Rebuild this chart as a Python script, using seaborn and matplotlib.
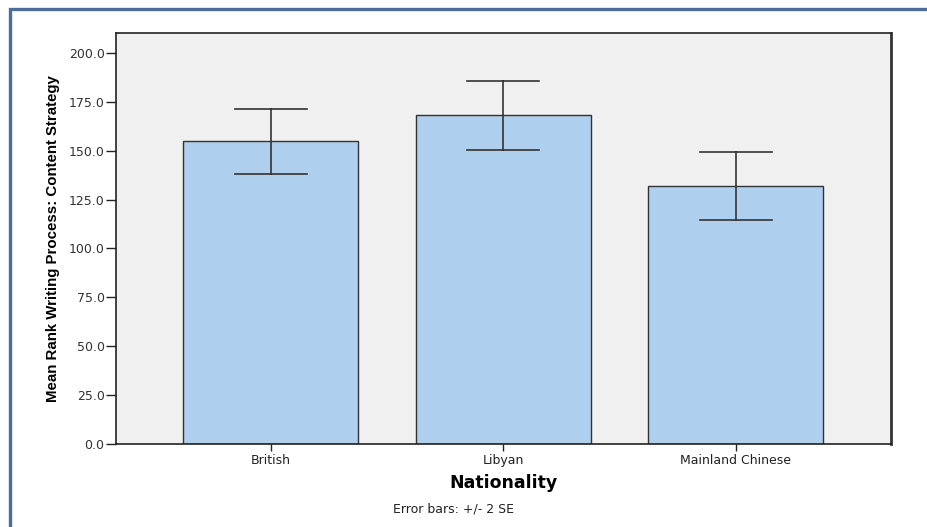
import matplotlib
matplotlib.use("Agg")
import matplotlib.pyplot as plt
from matplotlib.patches import Rectangle
import numpy as np
import pandas as pd
import seaborn as sns

# values (mean rank and +/- 2 SE limits)
nationality = ["British", "Libyan", "Mainland Chinese"]
mean_rank = [155.0, 168.3, 131.9]
lower_2se = [138.2, 150.4, 114.7]
upper_2se = [171.3, 185.8, 149.3]
y_ticks = [0, 25, 50, 75, 100, 125, 150, 175, 200]

# long table: median of (lower, mean, upper) is the mean, min/max are the limits
rows = []
for nat, lo, m, hi in zip(nationality, lower_2se, mean_rank, upper_2se):
    for v in (lo, m, hi):
        rows.append({"Nationality": nat, "rank": v})
df = pd.DataFrame(rows)

plt.rcParams["font.family"] = ["DejaVu Sans"]

fig = plt.figure(figsize=(9.28, 5.27), dpi=100)
ax = fig.add_axes([0.1247, 0.1575, 0.8351, 0.7799])
ax.set_facecolor("#f0f0f0")

sns.barplot(data=df, x="Nationality", y="rank", ax=ax,
            estimator="median", errorbar=lambda v: (v.min(), v.max()),
            color="#aecfed", saturation=1, width=0.752,
            edgecolor="#333333", linewidth=1.0,
            capsize=0.31, err_kws={"color": "#333333", "linewidth": 1.2})

ax.set_xlim(-0.667, 2.667)
ax.set_ylim(0, 210.2)
ax.set_yticks(y_ticks)
ax.set_yticklabels([f"{t:.1f}" for t in y_ticks])

ax.tick_params(axis="y", direction="out", length=7, width=1, pad=1,
               labelsize=9, labelcolor="#333333", color="#222222")
ax.tick_params(axis="x", direction="out", length=5, width=1, pad=2,
               labelsize=9, labelcolor="#222222", color="#222222")

for side in ["left", "bottom", "top"]:
    ax.spines[side].set_color("#222222")
    ax.spines[side].set_linewidth(1.2)
ax.spines["right"].set_color("#333333")
ax.spines["right"].set_linewidth(2.0)

ax.set_ylabel("Mean Rank Writing Process: Content Strategy",
              family=["Liberation Sans", "DejaVu Sans"], fontsize=10.8,
              fontweight="bold")
ax.yaxis.set_label_coords(-0.072, 0.5)
ax.set_xlabel("Nationality", fontsize=12.5, fontweight="bold")
ax.xaxis.set_label_coords(0.5, -0.073)

fig.text(0.489, 0.034, "Error bars: +/- 2 SE", fontsize=9,
         ha="center", va="center", color="#222222")

# blue outer frame of the output viewer
fig.patches.append(Rectangle((10.3 / 928, -0.05), 1.2, 1.0 - 8.7 / 527 + 0.05,
                             transform=fig.transFigure, fill=False,
                             edgecolor="#4a6d9b", linewidth=2.4,
                             clip_on=False))

fig.savefig("out.png", dpi=100)
